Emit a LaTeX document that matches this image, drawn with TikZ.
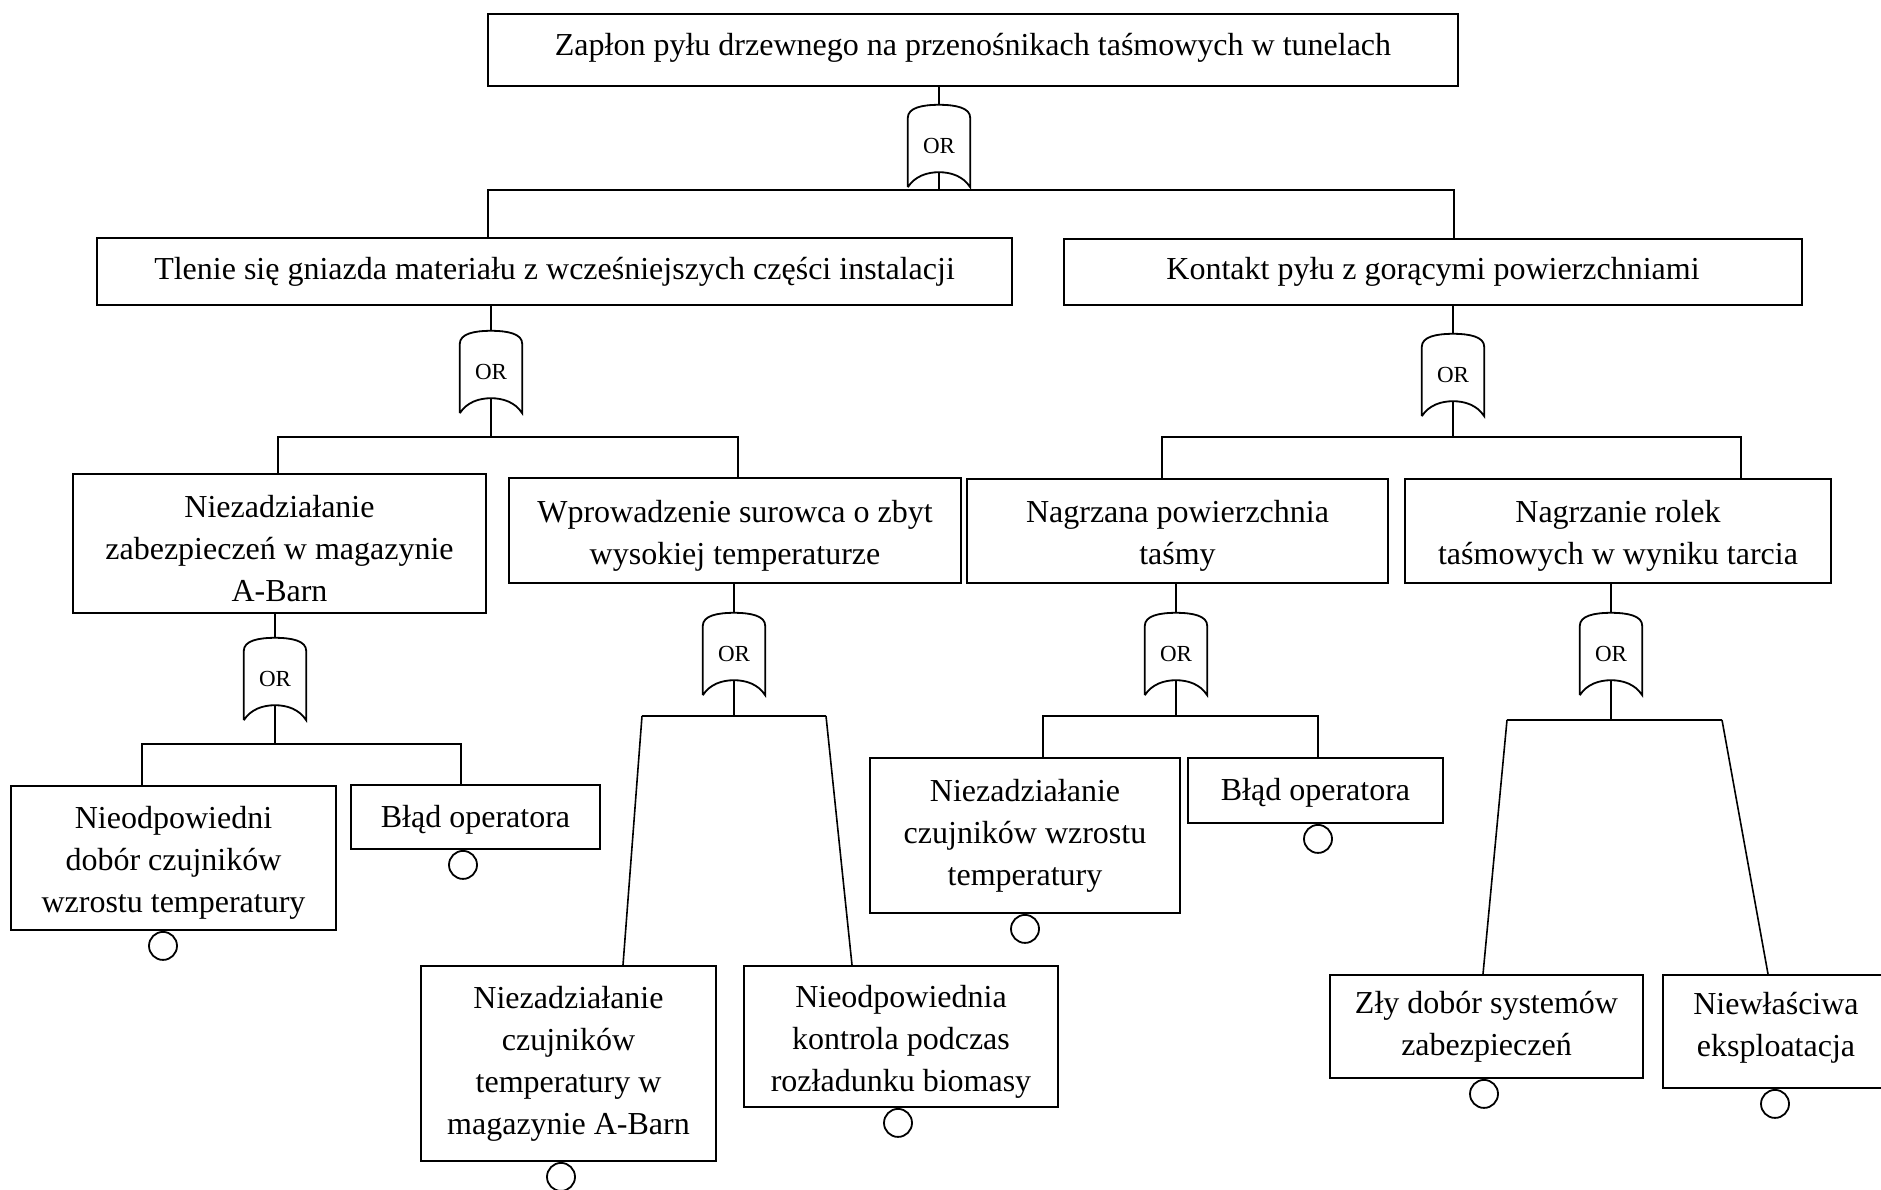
\documentclass[tikz,border=0pt]{standalone}
\usepackage{fontspec}
\setmainfont{Liberation Serif}
\newcommand\tsa{\rule{0pt}{32pt}}
\newcommand\tsb{\rule{0pt}{27pt}}
\tikzset{
  evt/.style={draw=black, line width=2pt, align=center, inner sep=0pt,
    font=\fontsize{32}{42}\selectfont},
  gatebox/.style={rectangle, minimum width=62pt, minimum height=82pt, inner sep=0pt,
    font=\fontsize{23}{26}\selectfont},
  gateline/.style={draw=black, line width=1.8pt},
  conn/.style={draw=black, line width=1.8pt},
  slant/.style={draw=black, line width=1.6pt},
  basic/.style={circle, draw=black, line width=1.8pt, minimum size=28pt, inner sep=0pt, anchor=north},
}
\newcommand\myorgate[3]{%
  \node[gatebox] (#1) at (#2,#3+41) {OR};
  \draw[gateline] (#1.south west) -- ([yshift=-13pt]#1.north west)
    .. controls ([yshift=-3pt]#1.north west) and ([xshift=-17pt]#1.north) .. (#1.north)
    .. controls ([xshift=17pt]#1.north) and ([yshift=-3pt]#1.north east) .. ([yshift=-13pt]#1.north east)
    -- (#1.south east)
    .. controls ([xshift=-7pt,yshift=11pt]#1.south east) and ([xshift=12pt,yshift=15pt]#1.south) .. ([yshift=15pt]#1.south)
    .. controls ([xshift=-12pt,yshift=15pt]#1.south) and ([xshift=7pt,yshift=11pt]#1.south west) .. (#1.south west);
}
\begin{document}
\begin{tikzpicture}[x=1pt,y=-1pt]
\useasboundingbox (0,0) rectangle (1881,1189);
\fill[white] (0,0) rectangle (1881,1189);

% level 0
\node[evt, minimum width=970pt, minimum height=72pt, text depth=12pt] (T) at (973,50)
  {Zapłon pyłu drzewnego na przenośnikach taśmowych w tunelach};
\myorgate{G1}{939}{105}

% level 1
\node[evt, minimum width=915pt, minimum height=67pt] (L1) at (554.5,271.5)
  {Tlenie się gniazda materiału z wcześniejszych części instalacji};
\node[evt, minimum width=738pt, minimum height=66pt] (K1) at (1433,272)
  {Kontakt pyłu z gorącymi powierzchniami};
\myorgate{G2}{491}{331}
\myorgate{G3}{1453}{334}

% level 2
\node[evt, minimum width=413pt, minimum height=139pt] (A) at (279.5,543.5)
  {\tsa Niezadziałanie\\zabezpieczeń w magazynie\\A-Barn};
\node[evt, minimum width=452pt, minimum height=105pt] (B) at (735,530.5)
  {\tsa Wprowadzenie surowca o zbyt\\wysokiej temperaturze};
\node[evt, minimum width=421pt, minimum height=104pt] (C) at (1177.5,531)
  {\tsa Nagrzana powierzchnia\\taśmy};
\node[evt, minimum width=426pt, minimum height=104pt] (D) at (1618,531)
  {\tsa Nagrzanie rolek\\taśmowych w wyniku tarcia};
\myorgate{GA}{275}{638}
\myorgate{GB}{734}{613}
\myorgate{GC}{1176}{613}
\myorgate{GD}{1611}{613}

% level 3
\node[evt, minimum width=325pt, minimum height=144pt] (A1) at (173.5,858)
  {\tsa Nieodpowiedni\\dobór czujników\\wzrostu temperatury};
\node[evt, minimum width=249pt, minimum height=64pt] (A2) at (475.5,817)
  {\tsb Błąd operatora};
\node[evt, minimum width=295pt, minimum height=195pt] (B1) at (568.5,1063.5)
  {Niezadziałanie\\czujników\\temperatury w\\magazynie A-Barn};
\node[evt, minimum width=314pt, minimum height=141pt] (B2) at (901,1036.5)
  {\tsa Nieodpowiednia\\kontrola podczas\\rozładunku biomasy};
\node[evt, minimum width=310pt, minimum height=155pt] (C1) at (1025,835.5)
  {Niezadziałanie\\czujników wzrostu\\temperatury};
\node[evt, minimum width=255pt, minimum height=65pt] (C2) at (1315.5,790.5)
  {\tsb Błąd operatora};
\node[evt, minimum width=313pt, minimum height=103pt] (D1) at (1486.5,1026.5)
  {Zły dobór systemów\\zabezpieczeń};
\node[evt, minimum width=226pt, minimum height=113pt] (D2) at (1776,1031.5)
  {Niewłaściwa\\eksploatacja\rule[-14pt]{0pt}{0pt}};

% basic event circles
\node[basic] (cA1) at (A1.south -| 163,0) {};
\node[basic] (cA2) at (A2.south -| 463,0) {};
\node[basic] (cB1) at (B1.south -| 561,0) {};
\node[basic] (cB2) at (B2.south -| 898,0) {};
\node[basic] (cC1) at (C1.south -| 1025,0) {};
\node[basic] (cC2) at (C2.south -| 1318,0) {};
\node[basic] (cD1) at (D1.south -| 1484,0) {};
\node[basic] (cD2) at (D2.south -| 1775,0) {};

% bar coordinates
\coordinate (b1L) at (488,190);  \coordinate (b1R) at (1454,190);
\coordinate (b2L) at (278,437);  \coordinate (b2R) at (738,437);
\coordinate (b3L) at (1162,437); \coordinate (b3R) at (1741,437);
\coordinate (bAL) at (142,744);  \coordinate (bAR) at (461,744);
\coordinate (bBL) at (642,716);  \coordinate (bBR) at (826,716);
\coordinate (bCL) at (1043,716); \coordinate (bCR) at (1318,716);
\coordinate (bDL) at (1507,720); \coordinate (bDR) at (1722,720);

% connectors: parent box to gate
\draw[conn] (T.south -| G1.north) -- (G1.north);
\draw[conn] (L1.south -| G2.north) -- (G2.north);
\draw[conn] (K1.south -| G3.north) -- (G3.north);
\draw[conn] (A.south -| GA.north) -- (GA.north);
\draw[conn] (B.south -| GB.north) -- (GB.north);
\draw[conn] (C.south -| GC.north) -- (GC.north);
\draw[conn] (D.south -| GD.north) -- (GD.north);

% gate to bar
\draw[conn] ([yshift=15pt]G1.south) -- (G1.south |- b1L);
\draw[conn] ([yshift=15pt]G2.south) -- (G2.south |- b2L);
\draw[conn] ([yshift=15pt]G3.south) -- (G3.south |- b3L);
\draw[conn] ([yshift=15pt]GA.south) -- (GA.south |- bAL);
\draw[conn] ([yshift=15pt]GB.south) -- (GB.south |- bBL);
\draw[conn] ([yshift=15pt]GC.south) -- (GC.south |- bCL);
\draw[conn] ([yshift=15pt]GD.south) -- (GD.south |- bDL);

% bars to children
\draw[conn] (b1L |- L1.north) -- (b1L) -- (b1R) -- (b1R |- K1.north);
\draw[conn] (b2L |- A.north) -- (b2L) -- (b2R) -- (b2R |- B.north);
\draw[conn] (b3L |- C.north) -- (b3L) -- (b3R) -- (b3R |- D.north);
\draw[conn] (bAL |- A1.north) -- (bAL) -- (bAR) -- (bAR |- A2.north);
\draw[conn] (bCL |- C1.north) -- (bCL) -- (bCR) -- (bCR |- C2.north);
\draw[conn] (bBL) -- (bBR);
\draw[slant] (bBL) -- (B1.north -| 623,0);
\draw[slant] (bBR) -- (B2.north -| 852,0);
\draw[conn] (bDL) -- (bDR);
\draw[slant] (bDL) -- (D1.north -| 1483,0);
\draw[slant] (bDR) -- (D2.north -| 1768,0);
\end{tikzpicture}
\end{document}
